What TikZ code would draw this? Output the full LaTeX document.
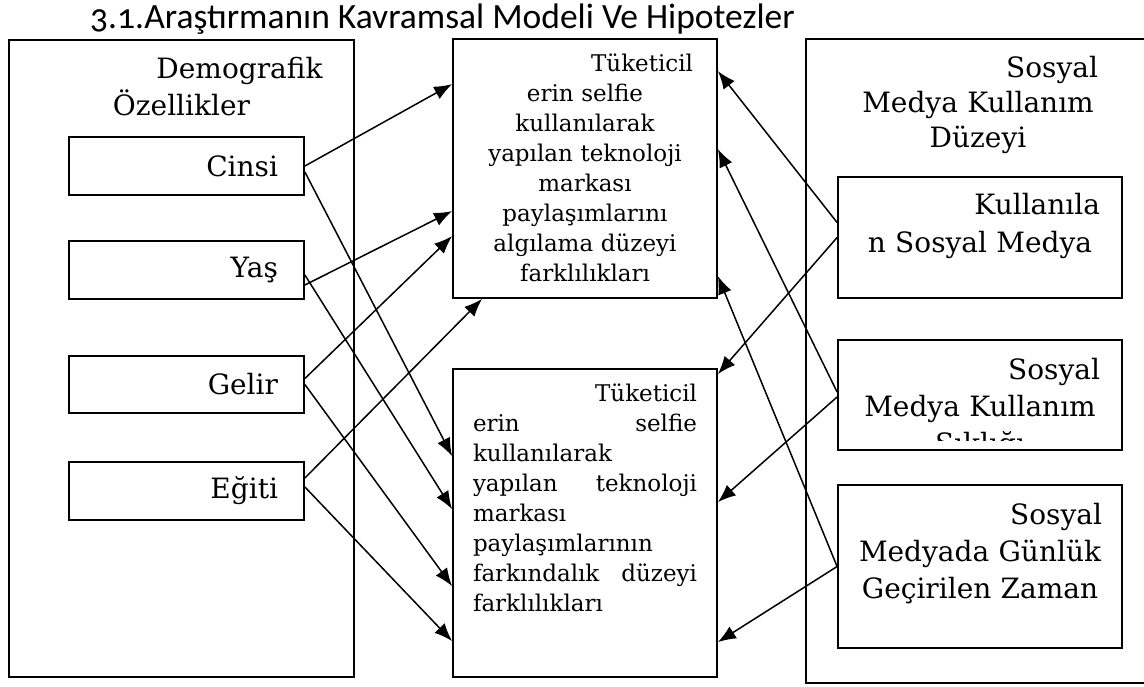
\documentclass[tikz,border=0pt]{standalone}
\usepackage{fontspec}
\setmainfont{DejaVu Serif}
\newfontfamily\titlefont[Numbers=OldStyle]{Carlito}
\usepackage{tikz}
\usetikzlibrary{arrows.meta, positioning}

\begin{document}
\begin{tikzpicture}[
        x=1pt, y=-1pt,
        box/.style={rectangle, draw, line width=1.8pt, inner sep=0pt},
        item/.style={box, minimum width=235pt, text width=183pt, align=right, font=\fontsize{28}{34}\selectfont},
        bigtxt/.style={inner sep=0pt, align=center, font=\fontsize{28}{36}\selectfont},
        midtxt/.style={inner sep=0pt, font=\fontsize{23}{30}\selectfont},
        link/.style={-{Latex[length=18pt,width=14pt]}, line width=1.5pt}
    ]
    \useasboundingbox (0,0) rectangle (1144,686);
    \clip (0,0) rectangle (1144,686);

    \node[anchor=base west, inner sep=0pt, font=\titlefont\fontsize{35.5}{38}\selectfont] (title) at (90,28) {3.1.Araştırmanın Kavramsal Modeli Ve Hipotezler};

    % Demografik ozellikler
    \node[box, minimum width=345pt, minimum height=637pt] (demo) at (181.5,358.5) {};
    \node[bigtxt, text width=282pt, font=\fontsize{28}{37}\selectfont, below=18pt of demo.north] (demohead) {\hspace*{\fill}Demografik\\Özellikler};
    \node[item, minimum height=58pt] (cinsi) at (186.5,166) {Cinsi};
    \node[item, minimum height=58pt] (yas) at (186.5,270) {Yaş\hspace*{10pt}};
    \node[item, minimum height=57pt] (gelir) at (186.5,384.5) {Gelir};
    \node[item, minimum height=58pt] (egitim) at (186.5,491) {Eğiti};

    % Bagimli degiskenler
    \node[box, minimum width=264pt, minimum height=259pt] (algi) at (585,168.5) {};
    \node[midtxt, text width=216pt, align=center, below=16pt of algi.north] (algitxt) {\hspace*{\fill}Tüketicil\\erin selfie\\kullanılarak\\yapılan teknoloji\\markası\\paylaşımlarını\\algılama düzeyi\\farklılıkları};
    \node[box, minimum width=264pt, minimum height=308pt] (farkin) at (585,523) {};
    \node[midtxt, text width=224pt, align=left, below=16pt of farkin.north] (farkintxt) {\hspace*{\fill}Tüketicil\hspace*{7pt}\\erin\hfill selfie\\kullanılarak\\yapılan\hfill teknoloji\\markası\\paylaşımlarının\\farkındalık\hfill düzeyi\\farklılıkları};

    % Sosyal medya kullanim duzeyi
    \node[box, minimum width=344pt, minimum height=644pt] (sosyal) at (978,361) {};
    \node[bigtxt, text width=240pt, font=\fontsize{28}{35}\selectfont, below=18pt of sosyal.north] (sosyalhead) {\hspace*{\fill}Sosyal\hspace*{20pt}\\Medya Kullanım\\Düzeyi};
    \node[box, minimum width=284pt, minimum height=121pt] (kullanilan) at (980,237.5) {};
    \node[bigtxt, text width=240pt, font=\fontsize{28}{38}\selectfont, below=17pt of kullanilan.north] (kullanilantxt) {\hspace*{\fill}Kullanıla\\n Sosyal Medya};
    \node[box, minimum width=284pt, minimum height=110pt] (siklik) at (980,395) {};
    \begin{scope}
        \clip (siklik.north west) rectangle ([yshift=10pt]siklik.south east);
        \node[bigtxt, text width=240pt, font=\fontsize{28}{37}\selectfont, below=19pt of siklik.north] (sikliktxt) {\hspace*{\fill}Sosyal\hspace*{20pt}\\Medya Kullanım\\Sıklığı};
    \end{scope}
    \node[box, minimum width=284pt, minimum height=163pt] (zaman) at (980,566.5) {};
    \node[bigtxt, text width=244pt, font=\fontsize{28}{37}\selectfont, below=19pt of zaman.north] (zamantxt) {\hspace*{\fill}Sosyal\hspace*{22pt}\\Medyada Günlük\\Geçirilen Zaman};

    % Demografik -> algilama
    \draw[link] (cinsi.east) -- ([yshift=-46pt]algi.north west);
    \draw[link] ([yshift=-15pt]yas.east) -- ([yshift=-173pt]algi.north west);
    \draw[link] ([yshift=6pt]gelir.east) -- ([yshift=-198pt]algi.north west);
    \draw[link] ([yshift=13pt]egitim.east) -- ([xshift=30pt]algi.south west);

    % Demografik -> farkindalik
    \draw[link] ([yshift=-6pt]cinsi.east) -- ([yshift=-88pt]farkin.north west);
    \draw[link] ([yshift=-5pt]yas.east) -- ([yshift=-141pt]farkin.north west);
    \draw[link] (gelir.east) -- ([yshift=-218pt]farkin.north west);
    \draw[link] ([yshift=4pt]egitim.east) -- ([yshift=-273pt]farkin.north west);

    % Sosyal medya -> algilama / farkindalik
    \draw[link] ([yshift=15pt]kullanilan.west) -- ([yshift=-33pt]algi.north east);
    \draw[link] (kullanilan.west) -- ([yshift=-6pt]farkin.north east);
    \draw[link] ([yshift=3pt]siklik.west) -- ([yshift=-111pt]algi.north east);
    \draw[link] ([yshift=-2pt]siklik.west) -- ([yshift=-134pt]farkin.north east);
    \draw[link] (zaman.west) -- ([yshift=-238pt]algi.north east);
    \draw[link] (zaman.west) -- ([yshift=-274pt]farkin.north east);
\end{tikzpicture}
\end{document}
